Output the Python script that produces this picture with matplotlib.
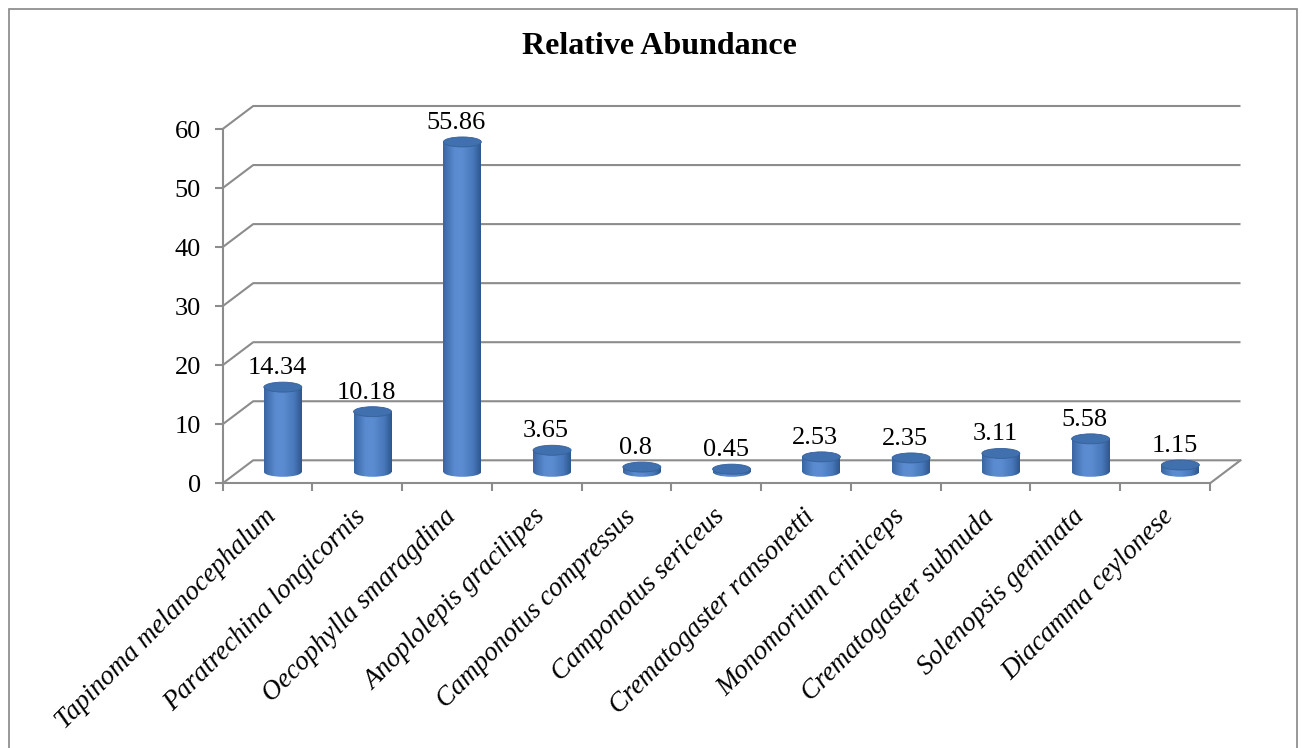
import numpy as np
import matplotlib
matplotlib.use("Agg")
import matplotlib.pyplot as plt
from matplotlib.patches import Ellipse, Rectangle
from matplotlib.colors import LinearSegmentedColormap
import matplotlib.transforms as mtransforms

# ---------------- data ----------------
species = [
    "Tapinoma melanocephalum",
    "Paratrechina longicornis",
    "Oecophylla smaragdina",
    "Anoplolepis gracilipes",
    "Camponotus compressus",
    "Camponotus sericeus",
    "Crematogaster ransonetti",
    "Monomorium criniceps",
    "Crematogaster subnuda",
    "Solenopsis geminata",
    "Diacamma ceylonese",
]
abundance = [14.34, 10.18, 55.86, 3.65, 0.8, 0.45, 2.53, 2.35, 3.11, 5.58, 1.15]
yticks = [0, 10, 20, 30, 40, 50, 60]
title = "Relative Abundance"

# ---------------- style ----------------
plt.rcParams["font.family"] = ["Liberation Serif", "DejaVu Serif"]
GRID = "#8c8c8c"
TOP_COLOR = "#4070ad"
cyl_cmap = LinearSegmentedColormap.from_list(
    "cyl",
    [(0.0, "#3a65a2"), (0.3, "#5a8bd0"), (0.5, "#5c8dd2"),
     (0.8, "#4878bb"), (1.0, "#2d578e")],
)

W_FIG, H_FIG, DPI = 1302, 748, 100
fig = plt.figure(figsize=(W_FIG / DPI, H_FIG / DPI), dpi=DPI)

ax_l, ax_r = 222.7 / W_FIG, 1210 / W_FIG
ax_b, ax_t = (H_FIG - 483.3) / H_FIG, (H_FIG - 129) / H_FIG
ax = fig.add_axes([ax_l, ax_b, ax_r - ax_l, ax_t - ax_b])
ax.patch.set_alpha(0)

n = len(species)
xmin, xmax = -0.5, n - 0.5
ymin, ymax = yticks[0], yticks[-1]

px_x = (ax_r - ax_l) * W_FIG / (xmax - xmin)
px_y = (ax_t - ax_b) * H_FIG / (ymax - ymin)
DX = 30.5 / px_x          # depth offset in x data units
DY = 23.0 / px_y          # depth offset in y data units
CW = 38.0 / px_x          # cylinder width
EH = 10.0 / px_y          # ellipse height

# back wall gridlines + side diagonals
for y in yticks:
    ax.plot([xmin, xmin + DX, xmax + DX], [y, y + DY, y + DY],
            color=GRID, lw=1.5, clip_on=False, zorder=1,
            solid_capstyle="butt")
# floor right edge
ax.plot([xmax, xmax + DX], [ymin, ymin + DY], color=GRID, lw=1.5,
        clip_on=False, zorder=1)

# cylinders
grad = np.linspace(0, 1, 128).reshape(1, -1)
for i, v in enumerate(abundance):
    cx = i + DX / 2
    base = ymin + DY / 2
    top = base + v
    x0, x1 = cx - CW / 2, cx + CW / 2
    body = ax.imshow(grad, cmap=cyl_cmap, extent=(x0, x1, base, top),
                     aspect="auto", zorder=3, interpolation="bilinear")
    body.set_clip_on(False)
    bottom = ax.imshow(grad, cmap=cyl_cmap,
                       extent=(x0, x1, base - EH / 2, base),
                       aspect="auto", zorder=3, interpolation="bilinear")
    ell_clip = Ellipse((cx, base), CW, EH, transform=ax.transData)
    bottom.set_clip_path(ell_clip)
    ax.add_patch(Ellipse((cx, top), CW, EH, facecolor=TOP_COLOR,
                         edgecolor="#36609a", lw=0.6, zorder=4,
                         clip_on=False))
    ax.annotate(f"{v:g}", xy=(cx, top), xytext=(-4.3, 9.4),
                textcoords="offset points", ha="center", va="baseline",
                fontsize=19, zorder=5, annotation_clip=False)

ax.set_xlim(xmin, xmax)
ax.set_ylim(ymin, ymax)

# spines
for s in ["top", "right"]:
    ax.spines[s].set_visible(False)
for s in ["left", "bottom"]:
    ax.spines[s].set_color(GRID)
    ax.spines[s].set_linewidth(1.5)
    ax.spines[s].set_zorder(2)

# y axis
ax.set_yticks(yticks)
ax.set_yticklabels([str(t) for t in yticks])
ax.tick_params(axis="y", length=5.8, width=1.5, color=GRID, pad=10,
               labelsize=19)

# x axis
ax.set_xticks(range(n))
ax.set_xticklabels(species, rotation=45, ha="right", va="top",
                   rotation_mode="anchor", fontstyle="italic", fontsize=19.5)
ax.set_xticks(np.arange(xmin, xmax + 0.01, 1.0), minor=True)
ax.tick_params(axis="x", which="major", length=0, pad=15)
ax.tick_params(axis="x", which="minor", length=5.8, width=1.5, color=GRID)
shift = mtransforms.ScaledTranslation(-4 / DPI, 0, fig.dpi_scale_trans)
for lab in ax.get_xticklabels():
    lab.set_transform(lab.get_transform() + shift)

# title
fig.text(659 / W_FIG, 1 - 47 / H_FIG, title, ha="center", va="center",
         fontsize=23, fontweight="bold")

# figure border
fig.add_artist(Rectangle((8.5 / W_FIG, -0.05), (1297 - 8.5) / W_FIG,
                         (H_FIG - 8.5) / H_FIG + 0.05,
                         transform=fig.transFigure, fill=False,
                         edgecolor="#868686", lw=1.2))

fig.savefig("out.png", dpi=DPI)
